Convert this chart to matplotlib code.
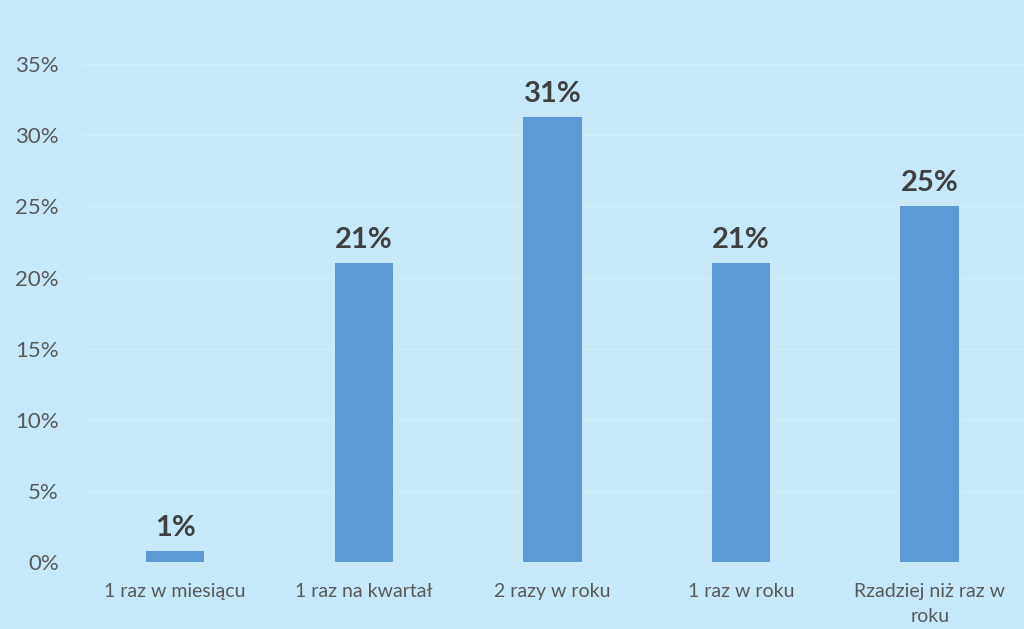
import matplotlib
matplotlib.use("Agg")
import matplotlib.pyplot as plt

categories = ["1 raz w miesiącu", "1 raz na kwartał", "2 razy w roku", "1 raz w roku", "Rzadziej niż raz w\nroku"]
values = [0.8, 21.0, 31.3, 21.0, 25.0]
labels = ["1%", "21%", "31%", "21%", "25%"]
yticks = [0, 5, 10, 15, 20, 25, 30, 35]

bg = "#c6e8f8"
fig = plt.figure(figsize=(10.24, 6.29), dpi=100, facecolor=bg)
ax = fig.add_axes([0.079, 0.1065, 0.921, 0.7915], facecolor=bg)

x = range(len(categories))
bars = ax.bar(x, values, width=0.31, color="#5b9bd5", zorder=3)
for xi, v, lab in zip(x, values, labels):
    ax.text(xi, v + 0.7, lab, ha="center", va="bottom", fontsize=21, fontweight="bold",
            color="#404040", family="Lato")

ax.set_ylim(0, 35)
ax.set_xlim(-0.5, len(categories) - 0.5)
ax.set_yticks(yticks)
ax.set_yticklabels([f"{t}%" for t in yticks], family="Lato", fontsize=16, color="#595959")
ax.set_xticks(list(x))
ax.set_xticklabels(categories, family="Lato", fontsize=14, color="#595959", linespacing=1.6)
ax.tick_params(axis="both", length=0)
ax.tick_params(axis="y", pad=16)
ax.tick_params(axis="x", pad=15)
ax.yaxis.grid(True, color="#d2edfa", linewidth=1, zorder=0)
for s in ax.spines.values():
    s.set_visible(False)
ax.axhline(0, color="#d2edfa", linewidth=1, zorder=2)

fig.savefig("out.png", dpi=100, facecolor=bg)
